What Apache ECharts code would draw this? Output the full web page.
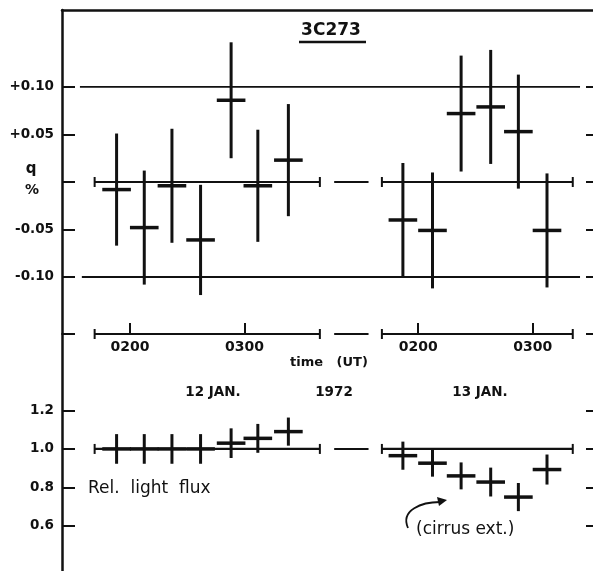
<!DOCTYPE html>
<html>
<head>
<meta charset="utf-8">
<script src="https://cdn.jsdelivr.net/npm/echarts@6.0.0/dist/echarts.min.js"></script>
<style>
html,body{margin:0;padding:0;background:#fff;}
#main{width:593px;height:571px;}
</style>
</head>
<body>
<div id="main"></div>
<script>
// 3C273 : q (%) and relative light flux, 12 and 13 Jan 1972
// times are minutes UT, 13 Jan is drawn shifted right by DAY2_SHIFT on the same axis
var DAY2_SHIFT = 151;
var HALF_BIN = 7.5;   // each point covers 15 min

var t12 = [113, 127.5, 142, 157, 173, 187, 203];
var q12 = [-0.008, -0.048, -0.004, -0.061, 0.086, -0.004, 0.023];
var qErr12 = [0.059, 0.060, 0.060, 0.058, 0.061, 0.059, 0.059];
var flux12 = [1.0, 1.0, 1.0, 1.0, 1.03, 1.055, 1.09];
var fluxErr12 = [0.077, 0.077, 0.077, 0.077, 0.077, 0.075, 0.073];

var t13 = [112, 127.5, 142.5, 158, 172.5, 187.5];
var q13 = [-0.040, -0.051, 0.072, 0.079, 0.053, -0.051];
var qErr13 = [0.060, 0.061, 0.061, 0.060, 0.060, 0.060];
var flux13 = [0.965, 0.926, 0.86, 0.828, 0.75, 0.893];
var fluxErr13 = [0.073, 0.070, 0.070, 0.075, 0.073, 0.078];

var timeTicks = [120, 180];          // 0200, 0300
var timeNames = ['0200', '0300'];
var qTicks = [-0.10, -0.05, 0.05, 0.10];
var fluxTicks = [0.6, 0.8, 1.0, 1.2];

// axis frame
var XMIN = 84.4, XMAX = 362.6;
var QMIN = -0.16, QMAX = 0.181;
var FMIN = 0.366, FMAX = 1.597;
var INK = '#111';
var FONT = 'DejaVu Sans';

var day12Span = [101.5, 219.5];
var day13Span = [101 + DAY2_SHIFT, 201 + DAY2_SHIFT];
var gapSpan = [227, 245];

var allTimeTicks = timeTicks.concat(timeTicks.map(function (v) { return v + DAY2_SHIFT; }));

function crosses(t, v, e, shift) {
  var out = [];
  for (var i = 0; i < t.length; i++) out.push([t[i] + shift, v[i], e[i]]);
  return out;
}

function crossItem(params, api) {
  var t = api.value(0), v = api.value(1), e = api.value(2);
  var a = api.coord([t, v - e]), b = api.coord([t, v + e]);
  var l = api.coord([t - HALF_BIN, v]), r = api.coord([t + HALF_BIN, v]);
  return {type: 'group', children: [
    {type: 'line', shape: {x1: a[0], y1: a[1], x2: b[0], y2: b[1]}, style: {stroke: INK, lineWidth: 3}},
    {type: 'line', shape: {x1: l[0], y1: l[1], x2: r[0], y2: r[1]}, style: {stroke: INK, lineWidth: 3.5}}
  ]};
}

function segItem(params, api) {
  var y = api.value(2);
  var p1 = api.coord([api.value(0), y]), p2 = api.coord([api.value(1), y]);
  var w = api.value(4);
  var ch = [{type: 'line', shape: {x1: p1[0], y1: p1[1], x2: p2[0], y2: p2[1]}, style: {stroke: INK, lineWidth: w}}];
  if (api.value(3)) {
    ch.push({type: 'line', shape: {x1: p1[0], y1: p1[1] - 5, x2: p1[0], y2: p1[1] + 5}, style: {stroke: INK, lineWidth: 2}});
    ch.push({type: 'line', shape: {x1: p2[0], y1: p2[1] - 5, x2: p2[0], y2: p2[1] + 5}, style: {stroke: INK, lineWidth: 2}});
  }
  return {type: 'group', children: ch};
}

function baseline(y) {
  return [
    [day12Span[0], day12Span[1], y, 1, 2.2],
    [gapSpan[0], gapSpan[1], y, 0, 2],
    [day13Span[0], day13Span[1], y, 1, 2.2]
  ];
}

var myChart = echarts.init(document.getElementById('main'));

var option = {
  backgroundColor: '#fff',
  animation: false,
  grid: [
    {left: 62, right: 0, top: 10, height: 324},
    {left: 62, right: 0, top: 334, bottom: 0}
  ],
  xAxis: [
    {
      gridIndex: 0, type: 'value', position: 'bottom', min: XMIN, max: XMAX,
      axisLine: {show: false, onZero: false},
      axisTick: {show: true, inside: true, length: 11, customValues: allTimeTicks,
        lineStyle: {color: INK, width: 2}},
      axisLabel: {show: true, margin: 6, customValues: allTimeTicks,
        color: INK, fontFamily: FONT, fontSize: 14, fontWeight: 'bold',
        formatter: function (v) {
          var m = v > 240 ? v - DAY2_SHIFT : v;
          return timeNames[timeTicks.indexOf(Math.round(m))];
        }},
      splitLine: {show: false}
    },
    {
      gridIndex: 0, type: 'value', position: 'top', min: XMIN, max: XMAX,
      axisLine: {show: true, onZero: false, lineStyle: {color: INK, width: 2.5}},
      axisTick: {show: false}, axisLabel: {show: false}, splitLine: {show: false}
    },
    {
      gridIndex: 1, type: 'value', min: XMIN, max: XMAX,
      axisLine: {show: false, onZero: false}, axisTick: {show: false}, axisLabel: {show: false}, splitLine: {show: false}
    }
  ],
  yAxis: [
    {
      gridIndex: 0, type: 'value', position: 'left', min: QMIN, max: QMAX,
      axisLine: {show: true, onZero: false, lineStyle: {color: INK, width: 2.5}},
      axisTick: {show: true, inside: true, length: 13, customValues: [QMIN, -0.10, -0.05, 0, 0.05, 0.10],
        lineStyle: {color: INK, width: 2}},
      axisLabel: {show: true, margin: 8, customValues: qTicks, color: INK, fontFamily: FONT, fontSize: 13.5, fontWeight: 'bold',
        formatter: function (v) { return (v > 0 ? '+' : '-') + Math.abs(v).toFixed(2); }},
      splitLine: {show: false}
    },
    {
      gridIndex: 0, type: 'value', position: 'right', min: QMIN, max: QMAX,
      axisLine: {show: false, onZero: false},
      axisTick: {show: true, inside: true, length: 7, customValues: [QMIN, -0.10, -0.05, 0, 0.05, 0.10],
        lineStyle: {color: INK, width: 2}},
      axisLabel: {show: false}, splitLine: {show: false}
    },
    {
      gridIndex: 1, type: 'value', position: 'left', min: FMIN, max: FMAX,
      axisLine: {show: true, onZero: false, lineStyle: {color: INK, width: 2.5}},
      axisTick: {show: true, inside: true, length: 13, customValues: fluxTicks, lineStyle: {color: INK, width: 2}},
      axisLabel: {show: true, margin: 8, customValues: fluxTicks, color: INK, fontFamily: FONT, fontSize: 13.5, fontWeight: 'bold',
        formatter: function (v) { return v.toFixed(1); }},
      splitLine: {show: false}
    },
    {
      gridIndex: 1, type: 'value', position: 'right', min: FMIN, max: FMAX,
      axisLine: {show: false, onZero: false},
      axisTick: {show: true, inside: true, length: 7, customValues: fluxTicks, lineStyle: {color: INK, width: 2}},
      axisLabel: {show: false}, splitLine: {show: false}
    }
  ],
  series: [
    {
      type: 'custom', name: 'frame q', xAxisIndex: 0, yAxisIndex: 0, renderItem: segItem,
      encode: {x: [0, 1], y: 2}, silent: true,
      data: baseline(0).concat(baseline(QMIN)).concat([
        [93.8, 355.8, 0.10, 0, 1.8],
        [94.8, 355.8, -0.10, 0, 1.8]
      ])
    },
    {
      type: 'custom', name: 'frame flux', xAxisIndex: 2, yAxisIndex: 2, renderItem: segItem,
      encode: {x: [0, 1], y: 2}, silent: true,
      data: baseline(1.0)
    },
    {
      type: 'custom', name: 'q 12 Jan', xAxisIndex: 0, yAxisIndex: 0, renderItem: crossItem,
      encode: {x: 0, y: 1}, data: crosses(t12, q12, qErr12, 0)
    },
    {
      type: 'custom', name: 'q 13 Jan', xAxisIndex: 0, yAxisIndex: 0, renderItem: crossItem,
      encode: {x: 0, y: 1}, data: crosses(t13, q13, qErr13, DAY2_SHIFT)
    },
    {
      type: 'custom', name: 'flux 12 Jan', xAxisIndex: 2, yAxisIndex: 2, renderItem: crossItem,
      encode: {x: 0, y: 1}, data: crosses(t12, flux12, fluxErr12, 0)
    },
    {
      type: 'custom', name: 'flux 13 Jan', xAxisIndex: 2, yAxisIndex: 2, renderItem: crossItem,
      encode: {x: 0, y: 1}, data: crosses(t13, flux13, fluxErr13, DAY2_SHIFT)
    }
  ],
  graphic: [
    {type: 'text', x: 331, y: 31, style: {text: '3C273', font: 'bold 17px "DejaVu Sans"', fill: INK, textAlign: 'center', textVerticalAlign: 'middle'}},
    {type: 'line', shape: {x1: 299, y1: 42, x2: 366, y2: 42}, style: {stroke: INK, lineWidth: 2.5}},
    {type: 'text', x: 31, y: 169, style: {text: 'q', font: 'bold 15px "DejaVu Sans"', fill: INK, textAlign: 'center', textVerticalAlign: 'middle'}},
    {type: 'text', x: 32, y: 190, style: {text: '%', font: 'bold 14px "DejaVu Sans"', fill: INK, textAlign: 'center', textVerticalAlign: 'middle'}},
    {type: 'text', x: 290, y: 363, style: {text: 'time   (UT)', font: 'bold 13px "DejaVu Sans"', fill: INK, textAlign: 'left', textVerticalAlign: 'middle'}},
    {type: 'text', x: 213, y: 392, style: {text: '12 JAN.', font: 'bold 13.5px "DejaVu Sans"', fill: INK, textAlign: 'center', textVerticalAlign: 'middle'}},
    {type: 'text', x: 334, y: 392, style: {text: '1972', font: 'bold 13.5px "DejaVu Sans"', fill: INK, textAlign: 'center', textVerticalAlign: 'middle'}},
    {type: 'text', x: 480, y: 392, style: {text: '13 JAN.', font: 'bold 13.5px "DejaVu Sans"', fill: INK, textAlign: 'center', textVerticalAlign: 'middle'}},
    {type: 'text', x: 88, y: 489, style: {text: 'Rel.  light  flux', font: '17px "DejaVu Sans"', fill: INK, textAlign: 'left', textVerticalAlign: 'middle'}},
    {type: 'text', x: 416, y: 530, style: {text: '(cirrus ext.)', font: '17px "DejaVu Sans"', fill: INK, textAlign: 'left', textVerticalAlign: 'middle'}},
    {type: 'bezierCurve', shape: {x1: 408, y1: 528, cpx1: 400, cpy1: 510, cpx2: 422, cpy2: 502, x2: 440, y2: 502},
      style: {stroke: INK, lineWidth: 1.8, fill: null}},
    {type: 'polygon', shape: {points: [[447, 500], [437, 497], [439, 506]]}, style: {fill: INK}}
  ]
};

myChart.setOption(option);
</script>
</body>
</html>
